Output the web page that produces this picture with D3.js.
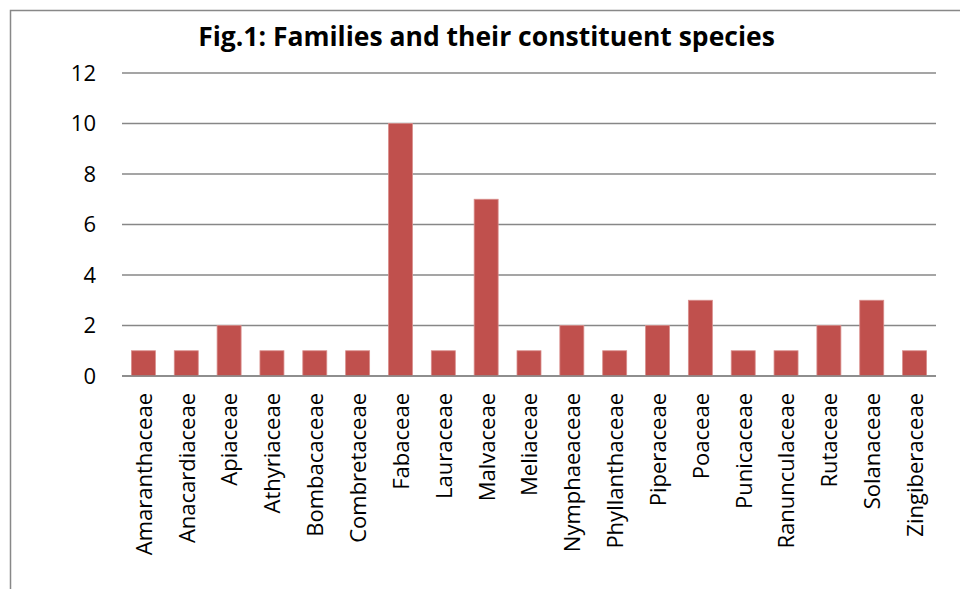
<!DOCTYPE html>
<html><head><meta charset="utf-8">
<script src="https://cdn.jsdelivr.net/npm/d3@7"></script>
<style>html,body{margin:0;padding:0;background:#fff;overflow:hidden}</style>
</head><body>
<svg id="chart" width="960" height="589"></svg>
<script>
const families = ["Amaranthaceae","Anacardiaceae","Apiaceae","Athyriaceae","Bombacaceae","Combretaceae","Fabaceae","Lauraceae","Malvaceae","Meliaceae","Nymphaeaceae","Phyllanthaceae","Piperaceae","Poaceae","Punicaceae","Ranunculaceae","Rutaceae","Solanaceae","Zingiberaceae"];
const species = [1,1,2,1,1,1,10,1,7,1,2,1,2,3,1,1,2,3,1];
const yTicks = [0,2,4,6,8,10,12];
const title = "Fig.1: Families and their constituent species";

const svg = d3.select("#chart");
const font = "'Open Sans', 'DejaVu Sans', sans-serif";
const pLeft = 122, pRight = 936, pTop = 73, pBottom = 376;

svg.append("rect").attr("x",10.5).attr("y",10.5).attr("width",960).attr("height",600)
  .attr("fill","#fff").attr("stroke","#888").attr("stroke-width",1.5);

const x = d3.scaleBand().domain(families).range([pLeft,pRight]).padding(0);
const y = d3.scaleLinear().domain([0,12]).range([pBottom,pTop]);

// gridlines
svg.append("g").selectAll("line").data(yTicks).join("line")
  .attr("x1",pLeft).attr("x2",pRight)
  .attr("y1",d=>y(d)).attr("y2",d=>y(d))
  .attr("stroke","#878787").attr("stroke-width",1.5);

// y tick labels
svg.append("g").selectAll("text").data(yTicks).join("text")
  .attr("x",96).attr("y",d=>y(d)).attr("dy","0.36em")
  .attr("text-anchor","end").attr("font-family",font).attr("font-size",22)
  .attr("fill","#000").text(d=>d);

// bars
const bw = x.bandwidth()*0.56;
svg.append("g").selectAll("rect").data(families).join("rect")
  .attr("x",d=>x(d)+x.bandwidth()/2-bw/2)
  .attr("y",(d,i)=>y(species[i]))
  .attr("width",bw)
  .attr("height",(d,i)=>y(0)-y(species[i]))
  .attr("fill","#C0504D").attr("stroke","#D98E8C").attr("stroke-width",0.8);

// axis line
svg.append("line").attr("x1",pLeft).attr("x2",pRight).attr("y1",y(0)).attr("y2",y(0))
  .attr("stroke","#878787").attr("stroke-width",1.5);

// category labels
svg.append("g").selectAll("text").data(families).join("text")
  .attr("transform",d=>`translate(${x(d)+x.bandwidth()/2},393) rotate(-90)`)
  .attr("dy","0.38em")
  .attr("text-anchor","end").attr("font-family",font).attr("font-size",22)
  .attr("fill","#000").text(d=>d);

// title
svg.append("text").attr("x",486.5).attr("y",46).attr("text-anchor","middle")
  .attr("font-family",font).attr("font-weight","bold").attr("font-size",26.5)
  .attr("fill","#000").text(title);
</script>
</body></html>
